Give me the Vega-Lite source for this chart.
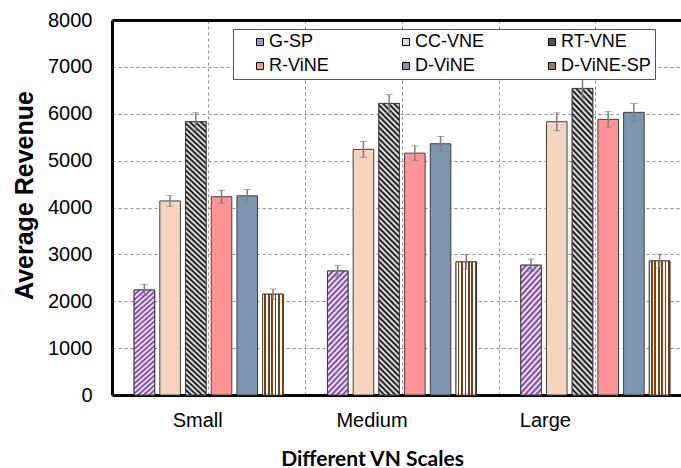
{
  "$schema": "https://vega.github.io/schema/vega-lite/v6.json",
  "width": 569,
  "height": 375,
  "autosize": "none",
  "padding": {"left": 112, "top": 20, "right": 0, "bottom": 73},
  "background": "white",
  "config": {"view": {"stroke": null}, "font": "Liberation Sans"},
  "data": {"values": [
    {"scale": "Small", "method": "G-SP", "value": 2240, "err": 120},
    {"scale": "Small", "method": "CC-VNE", "value": 4140, "err": 115},
    {"scale": "Small", "method": "RT-VNE", "value": 5830, "err": 190},
    {"scale": "Small", "method": "R-ViNE", "value": 4230, "err": 135},
    {"scale": "Small", "method": "D-ViNE", "value": 4250, "err": 135},
    {"scale": "Small", "method": "D-ViNE-SP", "value": 2150, "err": 110},
    {"scale": "Medium", "method": "G-SP", "value": 2645, "err": 120},
    {"scale": "Medium", "method": "CC-VNE", "value": 5240, "err": 170},
    {"scale": "Medium", "method": "RT-VNE", "value": 6220, "err": 190},
    {"scale": "Medium", "method": "R-ViNE", "value": 5160, "err": 155},
    {"scale": "Medium", "method": "D-ViNE", "value": 5360, "err": 155},
    {"scale": "Medium", "method": "D-ViNE-SP", "value": 2840, "err": 155},
    {"scale": "Large", "method": "G-SP", "value": 2770, "err": 130},
    {"scale": "Large", "method": "CC-VNE", "value": 5830, "err": 190},
    {"scale": "Large", "method": "RT-VNE", "value": 6540, "err": 210},
    {"scale": "Large", "method": "R-ViNE", "value": 5880, "err": 165},
    {"scale": "Large", "method": "D-ViNE", "value": 6030, "err": 190},
    {"scale": "Large", "method": "D-ViNE-SP", "value": 2860, "err": 145}
  ]},
  "layer": [
    {
      "mark": {"type": "tick", "opacity": 0},
      "encoding": {
        "x": {"field": "scale", "type": "nominal", "sort": ["Small", "Medium", "Large"],
          "scale": {"paddingInner": 0, "paddingOuter": 0, "range": [0, 580]},
          "axis": {"orient": "top", "grid": true, "tickBand": "extent", "labels": false, "ticks": false, "domain": true, "domainColor": "black", "domainWidth": 3, "title": null, "gridDash": [3, 3], "gridColor": "#8c8c8c", "gridWidth": 1}},
        "y": {"field": "value", "type": "quantitative", "title": "Average Revenue"}
      }
    },
    {
      "mark": {"type": "bar", "stroke": "#404040", "strokeWidth": 1},
      "encoding": {
        "x": {"field": "scale", "type": "nominal", "sort": ["Small", "Medium", "Large"],
          "axis": {"orient": "bottom", "title": "Different VN Scales", "titleFont": "Lato", "titleFontSize": 21, "titleFontWeight": "bold", "titleColor": "black", "titleX": 260, "titlePadding": 18,
            "labelFontSize": 20, "labelColor": "black", "labelPadding": 15, "labelAngle": 0,
            "labelOffset": {"condition": [{"test": "datum.value == 'Small'", "value": -11}, {"test": "datum.value == 'Medium'", "value": -30}], "value": -50},
            "ticks": false, "tickSize": 0, "domainColor": "black", "domainWidth": 3,
            "grid": true, "gridDash": [3, 3], "gridColor": "#8c8c8c", "gridWidth": 1}},
        "xOffset": {"field": "method", "type": "nominal", "sort": ["G-SP", "CC-VNE", "RT-VNE", "R-ViNE", "D-ViNE", "D-ViNE-SP"],
          "scale": {"paddingInner": 0.2, "paddingOuter": 0.86}},
        "y": {"field": "value", "type": "quantitative", "title": "Average Revenue", "scale": {"domain": [0, 8000]},
          "axis": {"format": "d", "tickCount": 8, "grid": true, "gridDash": [3, 3], "gridColor": "#8c8c8c", "gridWidth": 1,
            "ticks": false, "tickSize": 0, "labelFontSize": 20, "labelPadding": 20, "labelColor": "black",
            "domainColor": "black", "domainWidth": 3, "titleFontSize": 25, "titleFontWeight": "bold", "titleColor": "black", "titlePadding": 10, "titleY": 175}},
        "fill": {"field": "method", "type": "nominal",
          "scale": {"domain": ["G-SP", "CC-VNE", "RT-VNE", "R-ViNE", "D-ViNE", "D-ViNE-SP"],
            "range": ["#b48fd0", "#f6d5bd", "#555555", "#ff9494", "#7d95b0", "#a8715a"]},
          "legend": {"orient": "none", "legendX": 121, "legendY": 9, "direction": "horizontal", "columns": 3, "title": null,
            "fillColor": "white", "strokeColor": "#555555", "padding": 4, "symbolType": "square", "symbolSize": 49,
            "symbolStrokeColor": "black", "symbolStrokeWidth": 1, "labelFontSize": 18, "labelColor": "black",
            "columnPadding": 24, "rowPadding": 6, "gridAlign": "all", "symbolOffset": 14, "labelOffset": 0}}
      }
    },
    {
      "transform": [{"filter": "datum.method == 'RT-VNE'"}],
      "mark": {"type": "bar", "stroke": "#404040", "strokeWidth": 1,
        "fill": {"gradient": "linear", "x1": 0, "y1": 1, "x2": 0.0756, "y2": -0.0656, "stops": [
          {"offset": 0, "color": "#000000"}, {"offset": 0.00893, "color": "#ffffff"}, {"offset": 0.01786, "color": "#000000"}, {"offset": 0.02679, "color": "#ffffff"},
          {"offset": 0.03571, "color": "#000000"}, {"offset": 0.04464, "color": "#ffffff"}, {"offset": 0.05357, "color": "#000000"}, {"offset": 0.0625, "color": "#ffffff"},
          {"offset": 0.07143, "color": "#000000"}, {"offset": 0.08036, "color": "#ffffff"}, {"offset": 0.08929, "color": "#000000"}, {"offset": 0.09821, "color": "#ffffff"},
          {"offset": 0.10714, "color": "#000000"}, {"offset": 0.11607, "color": "#ffffff"}, {"offset": 0.125, "color": "#000000"}, {"offset": 0.13393, "color": "#ffffff"},
          {"offset": 0.14286, "color": "#000000"}, {"offset": 0.15179, "color": "#ffffff"}, {"offset": 0.16071, "color": "#000000"}, {"offset": 0.16964, "color": "#ffffff"},
          {"offset": 0.17857, "color": "#000000"}, {"offset": 0.1875, "color": "#ffffff"}, {"offset": 0.19643, "color": "#000000"}, {"offset": 0.20536, "color": "#ffffff"},
          {"offset": 0.21429, "color": "#000000"}, {"offset": 0.22321, "color": "#ffffff"}, {"offset": 0.23214, "color": "#000000"}, {"offset": 0.24107, "color": "#ffffff"},
          {"offset": 0.25, "color": "#000000"}, {"offset": 0.25893, "color": "#ffffff"}, {"offset": 0.26786, "color": "#000000"}, {"offset": 0.27679, "color": "#ffffff"},
          {"offset": 0.28571, "color": "#000000"}, {"offset": 0.29464, "color": "#ffffff"}, {"offset": 0.30357, "color": "#000000"}, {"offset": 0.3125, "color": "#ffffff"},
          {"offset": 0.32143, "color": "#000000"}, {"offset": 0.33036, "color": "#ffffff"}, {"offset": 0.33929, "color": "#000000"}, {"offset": 0.34821, "color": "#ffffff"},
          {"offset": 0.35714, "color": "#000000"}, {"offset": 0.36607, "color": "#ffffff"}, {"offset": 0.375, "color": "#000000"}, {"offset": 0.38393, "color": "#ffffff"},
          {"offset": 0.39286, "color": "#000000"}, {"offset": 0.40179, "color": "#ffffff"}, {"offset": 0.41071, "color": "#000000"}, {"offset": 0.41964, "color": "#ffffff"},
          {"offset": 0.42857, "color": "#000000"}, {"offset": 0.4375, "color": "#ffffff"}, {"offset": 0.44643, "color": "#000000"}, {"offset": 0.45536, "color": "#ffffff"},
          {"offset": 0.46429, "color": "#000000"}, {"offset": 0.47321, "color": "#ffffff"}, {"offset": 0.48214, "color": "#000000"}, {"offset": 0.49107, "color": "#ffffff"},
          {"offset": 0.5, "color": "#000000"}, {"offset": 0.50893, "color": "#ffffff"}, {"offset": 0.51786, "color": "#000000"}, {"offset": 0.52679, "color": "#ffffff"},
          {"offset": 0.53571, "color": "#000000"}, {"offset": 0.54464, "color": "#ffffff"}, {"offset": 0.55357, "color": "#000000"}, {"offset": 0.5625, "color": "#ffffff"},
          {"offset": 0.57143, "color": "#000000"}, {"offset": 0.58036, "color": "#ffffff"}, {"offset": 0.58929, "color": "#000000"}, {"offset": 0.59821, "color": "#ffffff"},
          {"offset": 0.60714, "color": "#000000"}, {"offset": 0.61607, "color": "#ffffff"}, {"offset": 0.625, "color": "#000000"}, {"offset": 0.63393, "color": "#ffffff"},
          {"offset": 0.64286, "color": "#000000"}, {"offset": 0.65179, "color": "#ffffff"}, {"offset": 0.66071, "color": "#000000"}, {"offset": 0.66964, "color": "#ffffff"},
          {"offset": 0.67857, "color": "#000000"}, {"offset": 0.6875, "color": "#ffffff"}, {"offset": 0.69643, "color": "#000000"}, {"offset": 0.70536, "color": "#ffffff"},
          {"offset": 0.71429, "color": "#000000"}, {"offset": 0.72321, "color": "#ffffff"}, {"offset": 0.73214, "color": "#000000"}, {"offset": 0.74107, "color": "#ffffff"},
          {"offset": 0.75, "color": "#000000"}, {"offset": 0.75893, "color": "#ffffff"}, {"offset": 0.76786, "color": "#000000"}, {"offset": 0.77679, "color": "#ffffff"},
          {"offset": 0.78571, "color": "#000000"}, {"offset": 0.79464, "color": "#ffffff"}, {"offset": 0.80357, "color": "#000000"}, {"offset": 0.8125, "color": "#ffffff"},
          {"offset": 0.82143, "color": "#000000"}, {"offset": 0.83036, "color": "#ffffff"}, {"offset": 0.83929, "color": "#000000"}, {"offset": 0.84821, "color": "#ffffff"},
          {"offset": 0.85714, "color": "#000000"}, {"offset": 0.86607, "color": "#ffffff"}, {"offset": 0.875, "color": "#000000"}, {"offset": 0.88393, "color": "#ffffff"},
          {"offset": 0.89286, "color": "#000000"}, {"offset": 0.90179, "color": "#ffffff"}, {"offset": 0.91071, "color": "#000000"}, {"offset": 0.91964, "color": "#ffffff"},
          {"offset": 0.92857, "color": "#000000"}, {"offset": 0.9375, "color": "#ffffff"}, {"offset": 0.94643, "color": "#000000"}, {"offset": 0.95536, "color": "#ffffff"},
          {"offset": 0.96429, "color": "#000000"}, {"offset": 0.97321, "color": "#ffffff"}, {"offset": 0.98214, "color": "#000000"}, {"offset": 0.99107, "color": "#ffffff"},
          {"offset": 1, "color": "#000000"}
        ]}},
      "encoding": {
        "x": {"field": "scale", "type": "nominal", "sort": ["Small", "Medium", "Large"], "axis": null},
        "xOffset": {"field": "method", "type": "nominal", "sort": ["G-SP", "CC-VNE", "RT-VNE", "R-ViNE", "D-ViNE", "D-ViNE-SP"]},
        "y": {"field": "value", "type": "quantitative", "title": "Average Revenue"}
      }
    },
    {
      "transform": [{"filter": "datum.method == 'G-SP'"}],
      "mark": {"type": "bar", "stroke": "#404040", "strokeWidth": 1,
        "fill": {"gradient": "linear", "x1": 0, "y1": 0, "x2": 0.1987, "y2": 1.1397, "stops": [
          {"offset": 0, "color": "#7030a0"}, {"offset": 0.02, "color": "#ffffff"}, {"offset": 0.04, "color": "#7030a0"}, {"offset": 0.06, "color": "#ffffff"},
          {"offset": 0.08, "color": "#7030a0"}, {"offset": 0.1, "color": "#ffffff"}, {"offset": 0.12, "color": "#7030a0"}, {"offset": 0.14, "color": "#ffffff"},
          {"offset": 0.16, "color": "#7030a0"}, {"offset": 0.18, "color": "#ffffff"}, {"offset": 0.2, "color": "#7030a0"}, {"offset": 0.22, "color": "#ffffff"},
          {"offset": 0.24, "color": "#7030a0"}, {"offset": 0.26, "color": "#ffffff"}, {"offset": 0.28, "color": "#7030a0"}, {"offset": 0.3, "color": "#ffffff"},
          {"offset": 0.32, "color": "#7030a0"}, {"offset": 0.34, "color": "#ffffff"}, {"offset": 0.36, "color": "#7030a0"}, {"offset": 0.38, "color": "#ffffff"},
          {"offset": 0.4, "color": "#7030a0"}, {"offset": 0.42, "color": "#ffffff"}, {"offset": 0.44, "color": "#7030a0"}, {"offset": 0.46, "color": "#ffffff"},
          {"offset": 0.48, "color": "#7030a0"}, {"offset": 0.5, "color": "#ffffff"}, {"offset": 0.52, "color": "#7030a0"}, {"offset": 0.54, "color": "#ffffff"},
          {"offset": 0.56, "color": "#7030a0"}, {"offset": 0.58, "color": "#ffffff"}, {"offset": 0.6, "color": "#7030a0"}, {"offset": 0.62, "color": "#ffffff"},
          {"offset": 0.64, "color": "#7030a0"}, {"offset": 0.66, "color": "#ffffff"}, {"offset": 0.68, "color": "#7030a0"}, {"offset": 0.7, "color": "#ffffff"},
          {"offset": 0.72, "color": "#7030a0"}, {"offset": 0.74, "color": "#ffffff"}, {"offset": 0.76, "color": "#7030a0"}, {"offset": 0.78, "color": "#ffffff"},
          {"offset": 0.8, "color": "#7030a0"}, {"offset": 0.82, "color": "#ffffff"}, {"offset": 0.84, "color": "#7030a0"}, {"offset": 0.86, "color": "#ffffff"},
          {"offset": 0.88, "color": "#7030a0"}, {"offset": 0.9, "color": "#ffffff"}, {"offset": 0.92, "color": "#7030a0"}, {"offset": 0.94, "color": "#ffffff"},
          {"offset": 0.96, "color": "#7030a0"}, {"offset": 0.98, "color": "#ffffff"}, {"offset": 1, "color": "#7030a0"}
        ]}},
      "encoding": {
        "x": {"field": "scale", "type": "nominal", "sort": ["Small", "Medium", "Large"], "axis": null},
        "xOffset": {"field": "method", "type": "nominal", "sort": ["G-SP", "CC-VNE", "RT-VNE", "R-ViNE", "D-ViNE", "D-ViNE-SP"]},
        "y": {"field": "value", "type": "quantitative", "title": "Average Revenue"}
      }
    },
    {
      "transform": [{"filter": "datum.method == 'D-ViNE-SP'"}],
      "mark": {"type": "bar", "stroke": "#404040", "strokeWidth": 1,
        "fill": {"gradient": "linear", "x1": 0, "y1": 0, "x2": 1, "y2": 0, "stops": [
          {"offset": 0, "color": "#ffffff"}, {"offset": 0.0833, "color": "#ffffff"}, {"offset": 0.0833, "color": "#843c0c"}, {"offset": 0.1667, "color": "#843c0c"},
          {"offset": 0.1667, "color": "#ffffff"}, {"offset": 0.25, "color": "#ffffff"}, {"offset": 0.25, "color": "#843c0c"}, {"offset": 0.3333, "color": "#843c0c"},
          {"offset": 0.3333, "color": "#ffffff"}, {"offset": 0.4167, "color": "#ffffff"}, {"offset": 0.4167, "color": "#843c0c"}, {"offset": 0.5, "color": "#843c0c"},
          {"offset": 0.5, "color": "#ffffff"}, {"offset": 0.5833, "color": "#ffffff"}, {"offset": 0.5833, "color": "#843c0c"}, {"offset": 0.6667, "color": "#843c0c"},
          {"offset": 0.6667, "color": "#ffffff"}, {"offset": 0.75, "color": "#ffffff"}, {"offset": 0.75, "color": "#843c0c"}, {"offset": 0.8333, "color": "#843c0c"},
          {"offset": 0.8333, "color": "#ffffff"}, {"offset": 0.9167, "color": "#ffffff"}, {"offset": 0.9167, "color": "#843c0c"}, {"offset": 1, "color": "#843c0c"}
        ]}},
      "encoding": {
        "x": {"field": "scale", "type": "nominal", "sort": ["Small", "Medium", "Large"], "axis": null},
        "xOffset": {"field": "method", "type": "nominal", "sort": ["G-SP", "CC-VNE", "RT-VNE", "R-ViNE", "D-ViNE", "D-ViNE-SP"]},
        "y": {"field": "value", "type": "quantitative", "title": "Average Revenue"}
      }
    },
    {
      "mark": {"type": "errorbar", "ticks": {"size": 7, "color": "#7f7f7f"}, "rule": {"color": "#7f7f7f", "strokeWidth": 1.5}},
      "encoding": {
        "x": {"field": "scale", "type": "nominal", "sort": ["Small", "Medium", "Large"], "axis": null},
        "xOffset": {"field": "method", "type": "nominal", "sort": ["G-SP", "CC-VNE", "RT-VNE", "R-ViNE", "D-ViNE", "D-ViNE-SP"]},
        "y": {"field": "value", "type": "quantitative", "title": "Average Revenue"},
        "yError": {"field": "err"}
      }
    }
  ],
  "resolve": {"axis": {"x": "independent"}}
}
